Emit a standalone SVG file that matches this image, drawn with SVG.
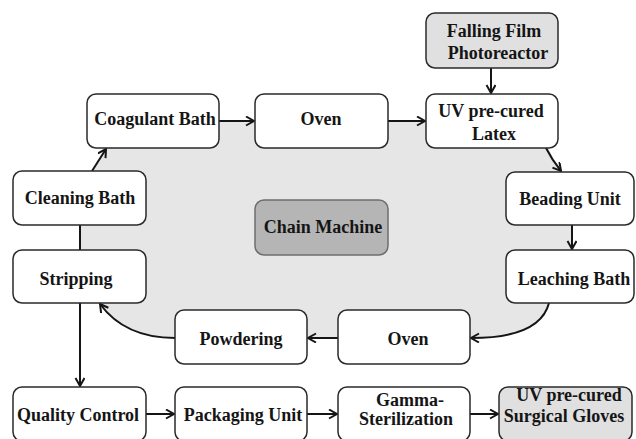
<svg xmlns="http://www.w3.org/2000/svg" width="636" height="439" viewBox="0 0 636 439">
<style>
.box{fill:#ffffff;stroke:#2a2a2a;stroke-width:1.5}
.grey{fill:#e0e0e0;stroke:#2a2a2a;stroke-width:1.5}
.dark{fill:#b5b5b5;stroke:#6e6e6e;stroke-width:1.5}
.t{font-family:"Liberation Serif","Times New Roman",serif;font-weight:bold;font-size:18px;fill:#151515;text-anchor:middle}
.c{fill:none;stroke:#151515;stroke-width:2}
.a{marker-end:url(#arr)}
</style>
<defs>
<marker id="arr" markerUnits="userSpaceOnUse" markerWidth="12" markerHeight="12" refX="9" refY="5" orient="auto">
<path d="M1,0.5 L9,5 L1,9.5" fill="none" stroke="#151515" stroke-width="2"/>
</marker>
</defs>
<rect width="636" height="439" fill="#ffffff"/>
<path id="blob" d="M92,171 L105,148 L105,121 L548,121 L548,148 L561,172 L572,172 L572,303 L549,303 Q540,338 470,338 L175,338 Q125,338 100,303 L80,303 L80,171 Z" fill="#e6e6e6"/>
<g id="connectors">
<path class="c a" d="M92,171 L106,149"/>
<path class="c a" d="M219,121 L254,121"/>
<path class="c a" d="M388,121 L425,121"/>
<path class="c a" d="M491,68 L491,93"/>
<path class="c a" d="M546,148 Q552,160 561,171"/>
<path class="c a" d="M572,225 L572,249"/>
<path class="c a" d="M549,303 Q540,338 471,338"/>
<path class="c a" d="M338,338 L308,338"/>
<path class="c a" d="M175,338 Q125,338 100,304"/>
<path class="c" d="M80,250 L80,225"/>
<path class="c a" d="M80,303 L80,386"/>
<path class="c a" d="M146,414 L174,414"/>
<path class="c a" d="M307,414 L337,414"/>
<path class="c a" d="M470,414 L498,414"/>
</g>
<g id="falling-film"><rect class="grey" x="426" y="13" width="132" height="55" rx="9"/><text class="t" x="494" y="37">Falling Film</text><text class="t" x="498" y="59">Photoreactor</text></g>
<g id="coagulant-bath"><rect class="box" x="87" y="94" width="132" height="54" rx="9"/><text class="t" x="155" y="125">Coagulant Bath</text></g>
<g id="oven-top"><rect class="box" x="255" y="94" width="133" height="54" rx="9"/><text class="t" x="321" y="125">Oven</text></g>
<g id="uv-latex"><rect class="box" x="426" y="94" width="132" height="54" rx="9"/><text class="t" x="491" y="117">UV pre-cured</text><text class="t" x="494" y="140">Latex</text></g>
<g id="cleaning-bath"><rect class="box" x="13" y="171" width="133" height="54" rx="9"/><text class="t" x="80" y="204">Cleaning Bath</text></g>
<g id="chain-machine"><rect class="dark" x="255" y="200" width="133" height="55" rx="9"/><text class="t" x="323" y="233">Chain Machine</text></g>
<g id="beading-unit"><rect class="box" x="506" y="172" width="128" height="53" rx="9"/><text class="t" x="570" y="205">Beading Unit</text></g>
<g id="stripping"><rect class="box" x="13" y="250" width="133" height="53" rx="9"/><text class="t" x="76" y="285">Stripping</text></g>
<g id="leaching-bath"><rect class="box" x="506" y="250" width="128" height="53" rx="9"/><text class="t" x="574" y="285">Leaching Bath</text></g>
<g id="powdering"><rect class="box" x="175" y="310" width="132" height="54" rx="9"/><text class="t" x="241" y="345">Powdering</text></g>
<g id="oven-bottom"><rect class="box" x="338" y="310" width="132" height="54" rx="9"/><text class="t" x="408" y="345">Oven</text></g>
<g id="quality-control"><rect class="box" x="13" y="387" width="133" height="54" rx="9"/><text class="t" x="78" y="421">Quality Control</text></g>
<g id="packaging-unit"><rect class="box" x="175" y="387" width="132" height="54" rx="9"/><text class="t" x="243" y="421">Packaging Unit</text></g>
<g id="gamma"><rect class="box" x="338" y="387" width="132" height="54" rx="9"/><text class="t" x="410" y="406">Gamma-</text><text class="t" x="406" y="425">Sterilization</text></g>
<g id="gloves"><rect class="grey" x="499" y="387" width="133" height="54" rx="9"/><text class="t" x="569" y="401">UV pre-cured</text><text class="t" x="564" y="422">Surgical Gloves</text></g>
</svg>
